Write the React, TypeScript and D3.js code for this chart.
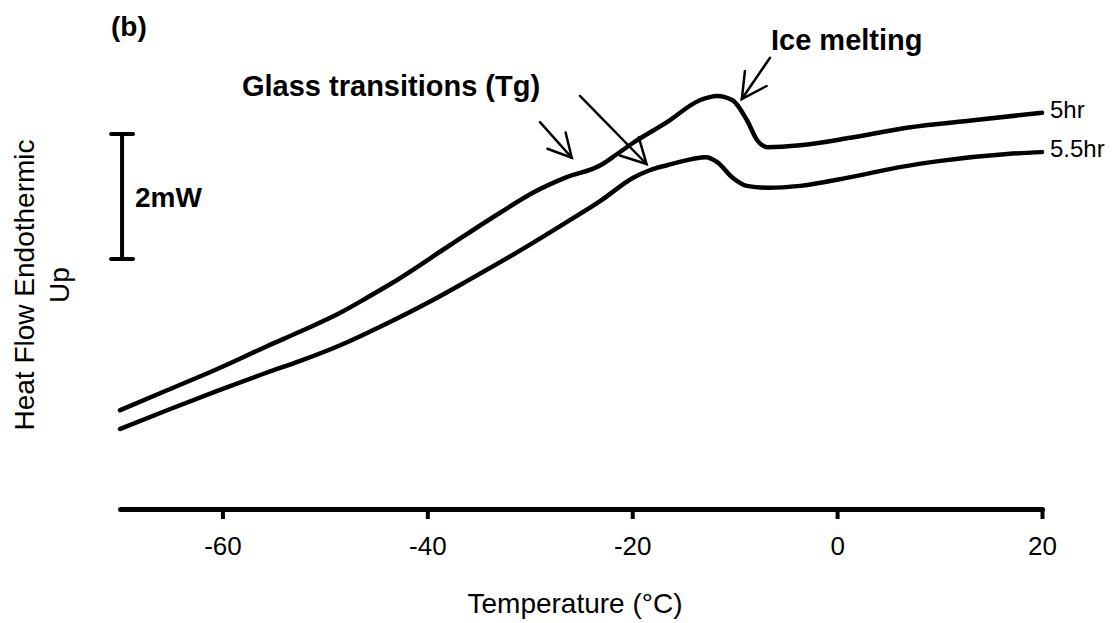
import React, { useEffect, useRef } from "react";
import * as d3 from "d3";

// DSC heating scans: temperature (°C) vs heat flow (mW, endothermic up, arbitrary offset)
const temp5hr = [-70, -65.4, -60.5, -55.7, -52.4, -48.5, -45.9, -43.4, -37.8, -32.9, -29.7, -26.4, -23.1, -21.9, -19.9, -16.6, -13.4, -11.7, -10.2, -8.8, -7.8, -6.8, -3.6, 1.3, 6.8, 13.3, 20];
const flow5hr = [1.58, 1.9, 2.24, 2.6, 2.84, 3.14, 3.38, 3.62, 4.22, 4.74, 5.06, 5.31, 5.5, 5.63, 5.86, 6.19, 6.54, 6.61, 6.54, 6.22, 5.9, 5.79, 5.82, 5.94, 6.1, 6.22, 6.34];

const temp55hr = [-70, -65.4, -60.5, -55.7, -52.4, -48.5, -44.3, -39.5, -36.1, -31.0, -26.4, -23.1, -19.9, -18.3, -16.6, -13.4, -12.8, -11.7, -10.2, -8.8, -6.8, -3.6, 1.3, 6.1, 10.1, 16.6, 20];
const flow55hr = [1.28, 1.58, 1.89, 2.18, 2.37, 2.62, 2.94, 3.34, 3.65, 4.13, 4.59, 4.93, 5.3, 5.42, 5.5, 5.62, 5.63, 5.55, 5.3, 5.17, 5.14, 5.17, 5.31, 5.47, 5.57, 5.68, 5.71];

const seriesLabels = ["5hr", "5.5hr"];
const xTicks = [-60, -40, -20, 0, 20];
const xDomain = [-70, 20];
const yDomain = [0, 8];

// annotation arrows: [startT, startV, tipT, tipV]
const arrowTg1 = [-29.0, 6.19, -25.9, 5.62];
const arrowTg2 = [-25.1, 6.61, -18.6, 5.52];
const arrowIce = [-6.55, 7.22, -9.3, 6.56];

// scale bar: 2 mW
const scaleBarT = -69.8;
const scaleBarV = [4, 6];

const FONT = "'Liberation Sans', Arial, Helvetica, sans-serif";

export default function App() {
  const ref = useRef<SVGSVGElement | null>(null);

  useEffect(() => {
    const svg = d3.select(ref.current);
    svg.selectAll("*").remove();

    const x = d3.scaleLinear().domain(xDomain).range([120, 1042]);
    const y = d3.scaleLinear().domain(yDomain).range([509, 9]);

    const line = d3
      .line<[number, number]>()
      .x((d) => x(d[0]))
      .y((d) => y(d[1]))
      .curve(d3.curveMonotoneX);

    const s1 = temp5hr.map((t, i) => [t, flow5hr[i]] as [number, number]);
    const s2 = temp55hr.map((t, i) => [t, flow55hr[i]] as [number, number]);

    [s1, s2].forEach((s) => {
      svg
        .append("path")
        .attr("d", line(s))
        .attr("fill", "none")
        .attr("stroke", "#000")
        .attr("stroke-width", 4.5)
        .attr("stroke-linecap", "round")
        .attr("stroke-linejoin", "round");
    });

    // series labels at the right end
    [s1, s2].forEach((s, i) => {
      const last = s[s.length - 1];
      svg
        .append("text")
        .attr("x", x(last[0]) + 8)
        .attr("y", y(last[1]) + 5)
        .attr("font-family", FONT)
        .attr("font-size", 24)
        .attr("fill", "#000")
        .text(seriesLabels[i]);
    });

    // x axis
    const axis = d3
      .axisBottom(x)
      .tickValues(xTicks)
      .tickSize(10)
      .tickSizeOuter(0)
      .tickPadding(18)
      .tickFormat((d) => String(d));
    const g = svg.append("g").attr("transform", "translate(0,509)").call(axis);
    g.select(".domain").attr("stroke", "#000").attr("stroke-width", 5).attr("stroke-linecap", "round");
    g.selectAll(".tick line").attr("stroke", "#000").attr("stroke-width", 4);
    g.selectAll(".tick text")
      .attr("font-family", FONT)
      .attr("font-size", 26)
      .attr("fill", "#000");

    svg
      .append("text")
      .attr("x", 575)
      .attr("y", 613)
      .attr("text-anchor", "middle")
      .attr("font-family", FONT)
      .attr("font-size", 28)
      .attr("fill", "#000")
      .text("Temperature (°C)");

    // y axis title (two lines, rotated)
    const yt = svg
      .append("text")
      .attr("transform", "translate(34,285) rotate(-90)")
      .attr("text-anchor", "middle")
      .attr("font-family", FONT)
      .attr("font-size", 28)
      .attr("fill", "#000");
    yt.append("tspan").attr("x", 0).attr("y", 0).text("Heat Flow Endothermic");
    yt.append("tspan").attr("x", 0).attr("y", 35).text("Up");

    // scale bar
    const sbx = x(scaleBarT);
    const sb = svg.append("g").attr("stroke", "#000").attr("stroke-width", 4);
    sb.append("line").attr("x1", sbx).attr("x2", sbx).attr("y1", y(scaleBarV[0])).attr("y2", y(scaleBarV[1]));
    [scaleBarV[0], scaleBarV[1]].forEach((v) => {
      sb.append("line")
        .attr("x1", sbx - 11)
        .attr("x2", sbx + 11)
        .attr("y1", y(v))
        .attr("y2", y(v))
        .attr("stroke-linecap", "round");
    });
    svg
      .append("text")
      .attr("x", sbx + 13)
      .attr("y", (y(scaleBarV[0]) + y(scaleBarV[1])) / 2 + 10)
      .attr("font-family", FONT)
      .attr("font-size", 28)
      .attr("font-weight", "bold")
      .attr("fill", "#000")
      .text("2mW");

    // panel label
    svg
      .append("text")
      .attr("x", 111)
      .attr("y", 36)
      .attr("font-family", FONT)
      .attr("font-size", 28)
      .attr("font-weight", "bold")
      .attr("fill", "#000")
      .text("(b)");

    // annotations
    svg
      .append("text")
      .attr("x", 242)
      .attr("y", 96)
      .attr("font-family", FONT)
      .attr("font-size", 29)
      .attr("font-weight", "bold")
      .attr("fill", "#000")
      .text("Glass transitions (Tg)");
    svg
      .append("text")
      .attr("x", 771)
      .attr("y", 50)
      .attr("font-family", FONT)
      .attr("font-size", 29)
      .attr("font-weight", "bold")
      .attr("fill", "#000")
      .text("Ice melting");

    const drawArrow = (a: number[], headLen: number) => {
      const x0 = x(a[0]), y0 = y(a[1]), x1 = x(a[2]), y1 = y(a[3]);
      const ang = Math.atan2(y0 - y1, x0 - x1);
      const spread = (28 * Math.PI) / 180;
      const ag = svg.append("g").attr("stroke", "#000").attr("stroke-width", 2.5).attr("stroke-linecap", "round").attr("fill", "none");
      ag.append("line").attr("x1", x0).attr("y1", y0).attr("x2", x1).attr("y2", y1);
      const pts: [number, number][] = [
        [x1 + headLen * Math.cos(ang + spread), y1 + headLen * Math.sin(ang + spread)],
        [x1, y1],
        [x1 + headLen * Math.cos(ang - spread), y1 + headLen * Math.sin(ang - spread)],
      ];
      ag.append("path").attr("d", d3.line()(pts));
    };
    drawArrow(arrowTg1, 26);
    drawArrow(arrowTg2, 28);
    drawArrow(arrowIce, 28);
  }, []);

  return (
    <svg
      ref={ref}
      width={1119}
      height={623}
      style={{ position: "absolute", left: 0, top: 0, background: "#fff" }}
    />
  );
}
